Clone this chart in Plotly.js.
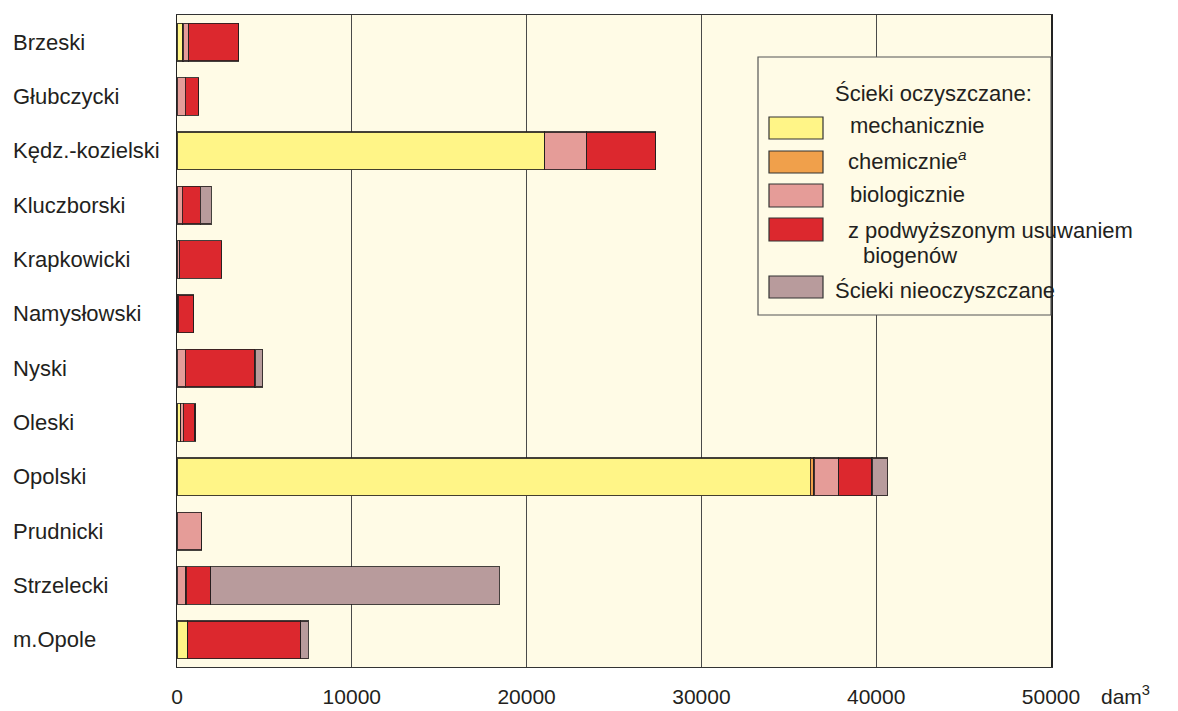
<!DOCTYPE html>
<html>
<head>
<meta charset="utf-8">
<script src="https://cdn.plot.ly/plotly-3.0.1.min.js"></script>
<style>html,body{margin:0;padding:0;background:#fff;}#chart{width:1178px;height:711px;}</style>
</head>
<body>
<div id="chart"></div>
<script>
const categories = ["Brzeski","Głubczycki","Kędz.-kozielski","Kluczborski","Krapkowicki","Namysłowski","Nyski","Oleski","Opolski","Prudnicki","Strzelecki","m.Opole"];
const mechaniczne =   [340, 0, 21030, 0, 0, 0, 0, 210, 36230, 0, 0, 610];
const chemiczne =     [0, 0, 0, 0, 0, 0, 0, 0, 210, 0, 0, 0];
const biologiczne =   [340, 470, 2400, 300, 150, 60, 470, 150, 1410, 1410, 520, 0];
const podwyzszone =   [2860, 770, 3950, 1030, 2380, 900, 3990, 670, 1910, 0, 1410, 6460];
const nieoczyszczane =[0, 0, 0, 630, 0, 0, 440, 0, 900, 0, 16510, 440];
const xTicks = [0, 10000, 20000, 30000, 40000, 50000];
const seriesNames = ["mechanicznie", "chemicznie", "biologicznie", "z podwyższonym usuwaniem biogenów", "Ścieki nieoczyszczane"];
const legendTitle = "Ścieki oczyszczane:";
const unitLabel = "dam<sup>3</sup>";

const colors = ["#FFF587", "#F0A04B", "#E59C98", "#DC282E", "#B89B9C"];
const seriesData = [mechaniczne, chemiczne, biologiczne, podwyzszone, nieoczyszczane];

const traces = seriesData.map((vals, i) => ({
  type: "bar",
  orientation: "h",
  y: categories,
  x: vals,
  name: seriesNames[i],
  marker: {color: colors[i], line: {color: "rgba(35,30,30,0.85)", width: 1.2}},
  showlegend: false,
  hoverinfo: "x+name"
}));

const W = 1178, H = 711, L = 177, R = 127, T = 15, B = 44;
const pw = W - L - R, ph = H - T - B;
const px = x => (x - L) / pw;
const py = y => 1 - (y - T) / ph;

const font = "Liberation Sans, Arial, sans-serif";
const annotations = [];
categories.forEach((c) => {
  annotations.push({
    xref: "paper", yref: "y", x: px(11), y: c, text: c,
    xanchor: "left", yanchor: "middle", showarrow: false,
    font: {family: font, size: 22, color: "#231F20"}
  });
});
annotations.push({xref: "paper", yref: "paper", x: px(1099), y: py(695), text: unitLabel,
  xanchor: "left", yanchor: "middle", showarrow: false,
  font: {family: font, size: 21, color: "#231F20"}});

const shapes = [];
shapes.push({type: "rect", xref: "paper", yref: "paper", x0: px(758), x1: px(1051), y0: py(57), y1: py(315),
  fillcolor: "#FFFBE6", line: {color: "#555", width: 1.2}, layer: "above"});
const sw = [[117, 139], [151, 173], [184, 207], [218, 241], [276, 298]];
sw.forEach((s, i) => {
  shapes.push({type: "rect", xref: "paper", yref: "paper", x0: px(769), x1: px(823), y0: py(s[0]), y1: py(s[1]),
    fillcolor: colors[i], line: {color: "#333", width: 1.2}, layer: "above"});
});
const lf = {family: font, size: 22, color: "#231F20"};
const legTexts = [
  [833, 94, legendTitle],
  [848, 125, seriesNames[0]],
  [846, 160, "chemicznie<sup><i>a</i></sup>"],
  [848, 195, seriesNames[2]],
  [846, 230, "z podwyższonym usuwaniem"],
  [861, 256, "biogenów"],
  [833, 290, seriesNames[4]]
];
legTexts.forEach(t => annotations.push({xref: "paper", yref: "paper", x: px(t[0]), y: py(t[1]), text: t[2],
  xanchor: "left", yanchor: "middle", showarrow: false, font: lf}));

const layout = {
  width: W, height: H,
  margin: {l: L, r: R, t: T, b: B},
  paper_bgcolor: "#ffffff",
  plot_bgcolor: "#FFFBE6",
  barmode: "stack",
  bargap: 0.31,
  xaxis: {
    range: [0, 50000], tickvals: xTicks, ticktext: xTicks.map(String),
    showgrid: true, gridcolor: "#4a4a4a", gridwidth: 1.3,
    zeroline: false, showline: true, mirror: true, linecolor: "#333", linewidth: 1.3,
    ticks: "outside", ticklen: 10, tickcolor: "rgba(0,0,0,0)",
    tickfont: {family: font, size: 21, color: "#231F20"}
  },
  yaxis: {
    categoryorder: "array", categoryarray: categories.slice(), autorange: "reversed",
    showticklabels: false, showgrid: false, zeroline: false,
    showline: true, mirror: true, linecolor: "#222", linewidth: 1.5, ticks: ""
  },
  annotations: annotations,
  shapes: shapes
};

Plotly.newPlot("chart", traces, layout, {displayModeBar: false, staticPlot: true});
</script>
</body>
</html>
